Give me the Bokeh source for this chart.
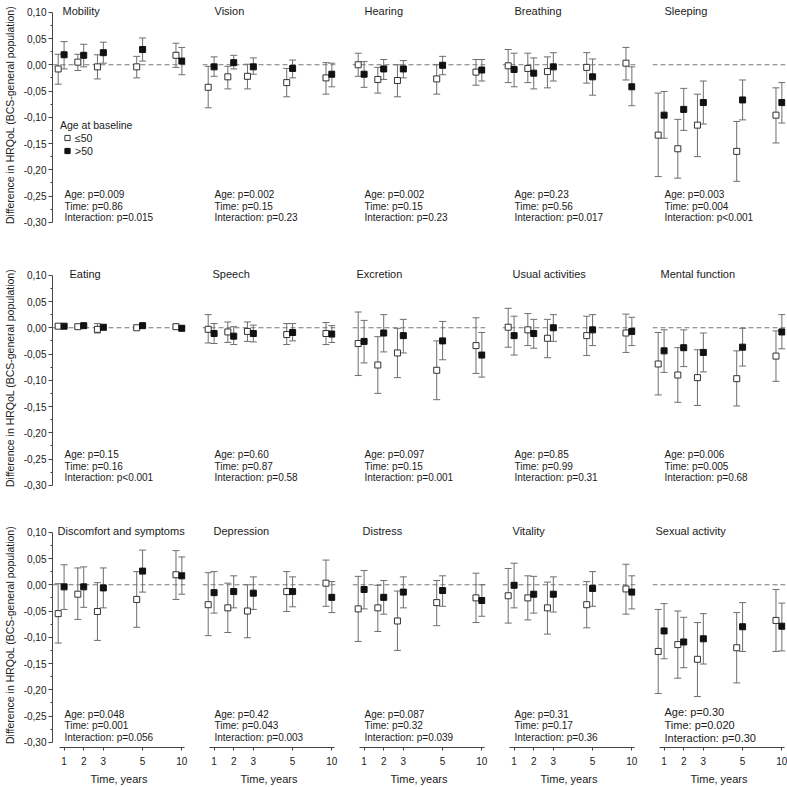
from bokeh.plotting import figure
from bokeh.layouts import gridplot
from bokeh.models import (ColumnDataSource, Whisker, TeeHead, Span, Label, Legend,
                          LegendItem, FixedTicker, CustomJSTickFormatter, Range1d)
from bokeh.embed import file_html
from bokeh.resources import INLINE

# time points and their slot on the (broken) time axis
years = [1, 2, 3, 5, 10]
year_slot = [1, 2, 3, 5, 7]

domains = ["Mobility", "Vision", "Hearing", "Breathing", "Sleeping",
           "Eating", "Speech", "Excretion", "Usual activities", "Mental function",
           "Discomfort and symptoms", "Depression", "Distress", "Vitality", "Sexual activity"]

# age at baseline <=50: mean difference and 95% CI
le50_mean = [
    [-0.008, 0.005, -0.004, -0.004, 0.018],
    [-0.043, -0.023, -0.022, -0.034, -0.025],
    [0.000, -0.028, -0.030, -0.027, -0.014],
    [-0.002, -0.007, -0.013, -0.005, 0.003],
    [-0.134, -0.160, -0.115, -0.165, -0.096],
    [0.003, 0.002, -0.003, 0.000, 0.002],
    [-0.003, -0.008, -0.007, -0.013, -0.011],
    [-0.030, -0.071, -0.048, -0.081, -0.034],
    [0.001, -0.004, -0.020, -0.015, -0.010],
    [-0.069, -0.090, -0.095, -0.097, -0.054],
    [-0.055, -0.018, -0.051, -0.028, 0.019],
    [-0.038, -0.044, -0.050, -0.013, 0.003],
    [-0.046, -0.044, -0.069, -0.034, -0.025],
    [-0.021, -0.025, -0.044, -0.038, -0.008],
    [-0.127, -0.114, -0.142, -0.120, -0.068],
]
le50_low = [
    [-0.037, -0.011, -0.027, -0.025, -0.005],
    [-0.082, -0.046, -0.046, -0.061, -0.056],
    [-0.022, -0.054, -0.061, -0.056, -0.039],
    [-0.034, -0.034, -0.044, -0.035, -0.029],
    [-0.213, -0.216, -0.175, -0.222, -0.149],
    [0.000, -0.001, -0.010, -0.002, -0.001],
    [-0.029, -0.028, -0.026, -0.032, -0.032],
    [-0.091, -0.125, -0.095, -0.137, -0.087],
    [-0.037, -0.034, -0.057, -0.053, -0.047],
    [-0.128, -0.142, -0.148, -0.149, -0.102],
    [-0.111, -0.066, -0.106, -0.081, -0.028],
    [-0.097, -0.091, -0.101, -0.051, -0.041],
    [-0.108, -0.089, -0.125, -0.078, -0.072],
    [-0.073, -0.067, -0.094, -0.082, -0.056],
    [-0.207, -0.178, -0.213, -0.187, -0.127],
]
le50_high = [
    [0.020, 0.020, 0.019, 0.016, 0.041],
    [-0.003, -0.003, 0.001, -0.007, 0.004],
    [0.022, -0.005, 0.000, 0.000, 0.010],
    [0.029, 0.022, 0.015, 0.023, 0.033],
    [-0.054, -0.104, -0.056, -0.108, -0.044],
    [0.006, 0.005, 0.008, 0.002, 0.005],
    [0.025, 0.011, 0.011, 0.008, 0.010],
    [0.030, -0.017, -0.001, -0.025, 0.019],
    [0.037, 0.027, 0.016, 0.022, 0.026],
    [-0.009, -0.038, -0.042, -0.044, -0.006],
    [0.002, 0.032, 0.004, 0.025, 0.065],
    [0.023, 0.003, 0.000, 0.025, 0.047],
    [0.016, -0.001, -0.012, 0.008, 0.022],
    [0.031, 0.017, 0.005, 0.006, 0.039],
    [-0.047, -0.050, -0.072, -0.053, -0.009],
]

# age at baseline >50
gt50_mean = [
    [0.019, 0.018, 0.023, 0.029, 0.007],
    [-0.004, 0.004, -0.004, -0.007, -0.018],
    [-0.018, -0.008, -0.008, -0.001, -0.010],
    [-0.009, -0.016, -0.004, -0.023, -0.042],
    [-0.096, -0.085, -0.072, -0.067, -0.072],
    [0.003, 0.004, 0.001, 0.004, -0.001],
    [-0.011, -0.016, -0.011, -0.009, -0.012],
    [-0.026, -0.010, -0.015, -0.025, -0.052],
    [-0.015, -0.011, 0.000, -0.004, -0.007],
    [-0.044, -0.038, -0.047, -0.037, -0.008],
    [-0.004, -0.004, -0.006, 0.026, 0.017],
    [-0.015, -0.013, -0.016, -0.013, -0.024],
    [-0.009, -0.024, -0.014, -0.011, -0.030],
    [-0.001, -0.018, -0.018, -0.007, -0.014],
    [-0.088, -0.109, -0.103, -0.080, -0.079],
]
gt50_low = [
    [-0.008, -0.004, 0.003, 0.007, -0.019],
    [-0.022, -0.008, -0.018, -0.025, -0.042],
    [-0.043, -0.028, -0.025, -0.019, -0.031],
    [-0.042, -0.046, -0.031, -0.058, -0.078],
    [-0.140, -0.125, -0.113, -0.105, -0.111],
    [0.001, 0.002, -0.004, 0.002, -0.006],
    [-0.030, -0.032, -0.027, -0.025, -0.028],
    [-0.067, -0.046, -0.048, -0.061, -0.094],
    [-0.052, -0.039, -0.026, -0.034, -0.034],
    [-0.085, -0.074, -0.084, -0.073, -0.040],
    [-0.047, -0.043, -0.044, -0.014, -0.018],
    [-0.054, -0.044, -0.047, -0.042, -0.053],
    [-0.046, -0.056, -0.044, -0.041, -0.060],
    [-0.044, -0.054, -0.052, -0.041, -0.046],
    [-0.141, -0.158, -0.151, -0.127, -0.126],
]
gt50_high = [
    [0.044, 0.039, 0.043, 0.051, 0.033],
    [0.015, 0.018, 0.013, 0.009, 0.003],
    [0.006, 0.010, 0.008, 0.016, 0.010],
    [0.022, 0.013, 0.023, 0.011, -0.004],
    [-0.051, -0.045, -0.031, -0.029, -0.034],
    [0.005, 0.006, 0.005, 0.006, 0.003],
    [0.008, 0.002, 0.005, 0.008, 0.004],
    [0.014, 0.025, 0.016, 0.012, -0.009],
    [0.022, 0.016, 0.025, 0.025, 0.020],
    [-0.004, -0.004, -0.010, -0.001, 0.025],
    [0.038, 0.034, 0.032, 0.066, 0.053],
    [0.025, 0.017, 0.015, 0.015, 0.006],
    [0.027, 0.008, 0.015, 0.017, 0.000],
    [0.041, 0.016, 0.015, 0.025, 0.017],
    [-0.036, -0.062, -0.055, -0.034, -0.035],
]

p_age = ["p=0.009", "p=0.002", "p=0.002", "p=0.23", "p=0.003",
         "p=0.15", "p=0.60", "p=0.097", "p=0.85", "p=0.006",
         "p=0.048", "p=0.42", "p=0.087", "p=0.31", "p=0.30"]
p_time = ["p=0.86", "p=0.15", "p=0.15", "p=0.56", "p=0.004",
          "p=0.16", "p=0.87", "p=0.15", "p=0.99", "p=0.005",
          "p=0.001", "p=0.043", "p=0.32", "p=0.17", "p=0.020"]
p_inter = ["p=0.015", "p=0.23", "p=0.23", "p=0.017", "p<0.001",
           "p<0.001", "p=0.58", "p=0.001", "p=0.31", "p=0.68",
           "p=0.056", "p=0.003", "p=0.039", "p=0.36", "p=0.30"]

y_ticks = [-0.30, -0.25, -0.20, -0.15, -0.10, -0.05, 0.00, 0.05, 0.10]

# layout / style
FONT = "Liberation Sans"
TXT = "#1a1a1a"
AXC = "#444444"
BAR = "#6e6e6e"
FW, FH = 133, 225
X0, X1 = 0.41, 0.41 + 133 / 19.63
Y0, Y1 = -0.31, -0.31 + 225 / 525
SHIFT = -0.3
title_dx = [10, 12, 12, 12, 12, 17, 10, 4, 10, 8, 5, 11, 10, 10, 3]
top_border = [2, 19, 16]
bottom_border = [19, 16, 39]
stat_base = [33, 36, 33.5]


def add_series(p, xs, mean, low, high, fill, line):
    src = ColumnDataSource(dict(x=xs, y=mean, lo=low, hi=high))
    w = Whisker(source=src, base="x", upper="hi", lower="lo", dimension="height",
                line_color=BAR, line_width=1, level="underlay",
                upper_head=TeeHead(size=7, line_color=BAR, line_width=1),
                lower_head=TeeHead(size=7, line_color=BAR, line_width=1))
    p.add_layout(w)
    return p.scatter("x", "y", source=src, marker="square", size=6,
                     fill_color=fill, line_color=line, line_width=1)


figs = []
for i, name in enumerate(domains):
    r, c = divmod(i, 5)
    p = figure(frame_width=FW, frame_height=FH, title=None,
               x_range=Range1d(X0, X1), y_range=Range1d(Y0, Y1),
               x_axis_location="below" if r == 2 else None,
               y_axis_location="left" if c == 0 else None,
               min_border_left=51 if c == 0 else 0,
               min_border_right=17 if c < 4 else 2,
               min_border_top=top_border[r], min_border_bottom=bottom_border[r],
               output_backend="svg", toolbar_location=None)
    p.grid.visible = False
    p.outline_line_color = None

    p.add_layout(Span(location=0, dimension="width", line_color="#777777",
                      line_dash="5 3", line_width=1, level="underlay"))

    r_young = add_series(p, [s + SHIFT for s in year_slot], le50_mean[i],
                         le50_low[i], le50_high[i], "white", "#333333")
    r_old = add_series(p, year_slot, gt50_mean[i], gt50_low[i], gt50_high[i],
                       "#111111", "#111111")

    p.add_layout(Label(x=X0, y=0.10, x_offset=title_dx[i], y_offset=1, text=name,
                       text_font=FONT, text_font_size="11px", text_color=TXT,
                       text_baseline="middle"))
    if i == 14:
        stat_size, base, step = "11px", 35.4, 12.8
    else:
        stat_size, base, step = "10px", stat_base[r], 11.7
    for k, (lab, val) in enumerate([("Age", p_age[i]), ("Time", p_time[i]),
                                    ("Interaction", p_inter[i])]):
        p.add_layout(Label(x=X0, y=Y0, x_offset=12, y_offset=base - step * k,
                           text=f"{lab}: {val}", text_font=FONT,
                           text_font_size=stat_size, text_color=TXT,
                           text_baseline="middle"))

    if c == 0:
        ya = p.yaxis[0]
        ya.ticker = FixedTicker(ticks=y_ticks,
                                minor_ticks=[t + 0.025 for t in y_ticks[:-1]])
        ya.formatter = CustomJSTickFormatter(code="return tick.toFixed(2).replace('.', ',')")
        ya.bounds = (-0.30, 0.10)
        ya.axis_label = "Difference in HRQoL (BCS-general population)"
        ya.axis_label_text_font = FONT
        ya.axis_label_text_font_size = "10.5px"
        ya.axis_label_text_font_style = "normal"
        ya.axis_label_text_color = TXT
        ya.axis_label_standoff = 5
        ya.major_label_text_font = FONT
        ya.major_label_text_font_size = "10px"
        ya.major_label_text_color = TXT
        ya.major_label_standoff = 2
        ya.major_tick_in = 0
        ya.major_tick_out = 4
        ya.minor_tick_in = 0
        ya.minor_tick_out = 2
        ya.axis_line_color = AXC
        ya.major_tick_line_color = AXC
        ya.minor_tick_line_color = AXC

    if r == 2:
        xa = p.xaxis[0]
        xa.ticker = FixedTicker(ticks=year_slot)
        xa.major_label_overrides = {s: str(y) for s, y in zip(year_slot, years)}
        xa.bounds = (0.77, 7.15)
        xa.axis_label = "Time, years"
        xa.axis_label_text_font = FONT
        xa.axis_label_text_font_size = "11px"
        xa.axis_label_text_font_style = "normal"
        xa.axis_label_text_color = TXT
        xa.axis_label_standoff = 5
        xa.major_label_text_font = FONT
        xa.major_label_text_font_size = "10px"
        xa.major_label_text_color = TXT
        xa.major_label_standoff = 6
        xa.major_tick_in = 0
        xa.major_tick_out = 3
        xa.axis_line_color = AXC
        xa.major_tick_line_color = AXC

    if i == 0:
        legend = Legend(items=[LegendItem(label="\u226450", renderers=[r_young]),
                               LegendItem(label=">50", renderers=[r_old])],
                        title="Age at baseline", location=(8, 70),
                        glyph_width=14, glyph_height=13, label_height=13,
                        label_standoff=1, spacing=0, padding=0, margin=0,
                        title_standoff=0, background_fill_alpha=0,
                        border_line_alpha=0,
                        label_text_font=FONT, label_text_font_size="10.5px",
                        label_text_color=TXT, title_text_font=FONT,
                        title_text_font_size="10.5px",
                        title_text_font_style="normal", title_text_color=TXT)
        p.add_layout(legend)

    figs.append(p)

grid = gridplot(figs, ncols=5, toolbar_location=None)

open("out.html", "w").write(file_html(grid, INLINE))
